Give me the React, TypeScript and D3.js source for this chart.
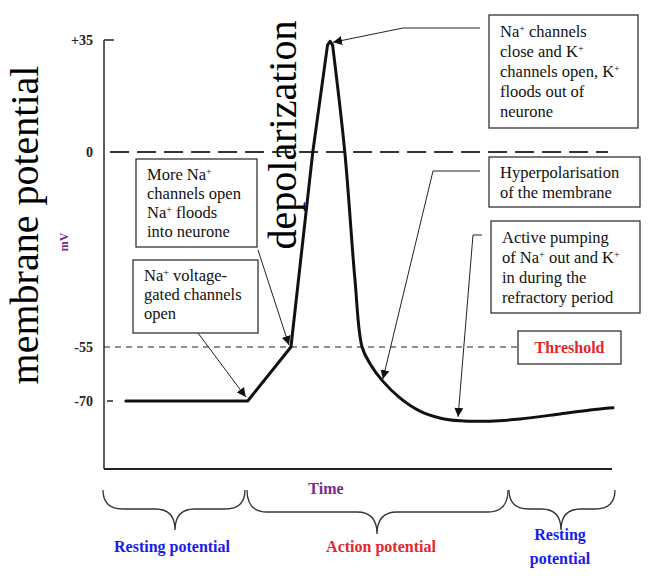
import React from "react";
import * as d3 from "d3";

// ---- data ----
const timePoints = [4.3, 28.3, 36.8, 41.1, 44.0, 44.5, 45.0, 47.4, 49.4, 50.8, 52.4, 54.7, 58.3, 62.2, 66.1, 70.1, 76.0, 81.9, 89.8, 95.7, 100.2];
const voltage = [-70, -70, -55, 0, 33.4, 34.6, 33.4, 0, -36, -55, -59.7, -64.2, -69.2, -72.8, -74.7, -75.5, -75.6, -75, -73.6, -72.5, -71.9];
const yTickValues = [35, 0, -55, -70];
const yTickLabels = ["+35", "0", "-55", "-70"];
const thresholdValue = -55;
const zeroValue = 0;

const W = 652;
const H = 580;
const SERIF = "'Liberation Serif', 'Times New Roman', serif";
const BLUE = "#1a1aee";
const RED = "#e3262b";
const PURPLE = "#7b2a8e";

const x = d3.scaleLinear().domain([0, 100]).range([104, 612]);
const y = d3.scaleLinear().domain([-80, -70, -55, 0, 35]).range([437, 401, 347, 152, 40]);

const pts: [number, number][] = timePoints.map((t, i) => [t, voltage[i]]);
const lineLinear = d3.line<[number, number]>().x(d => x(d[0])).y(d => y(d[1])).curve(d3.curveLinear);
const lineCurve = d3.line<[number, number]>().x(d => x(d[0])).y(d => y(d[1])).curve(d3.curveCatmullRom.alpha(0.5));

const Sup = ({ children }: { children: React.ReactNode }) => (
  <tspan fontSize="10" baselineShift="super">{children}</tspan>
);

type Line = React.ReactNode;
function Box({ x0, y0, w, h, lines, tx, ty, lh }: { x0: number; y0: number; w: number; h: number; lines: Line[]; tx: number; ty: number; lh: number }) {
  return (
    <g>
      <rect x={x0} y={y0} width={w} height={h} fill="white" stroke="#333" strokeWidth={1.3} />
      <text fontFamily={SERIF} fontSize={16.5} fill="#111">
        {lines.map((l, i) => (
          <tspan key={i} x={tx} y={ty + i * lh}>{l}</tspan>
        ))}
      </text>
    </g>
  );
}

function brace(x1: number, x2: number, tip: number, top: number, mid: number, bot: number) {
  const r = 10;
  return `M${x1},${top} Q${x1},${mid} ${x1 + r * 2},${mid} L${tip - r * 2},${mid} Q${tip},${mid} ${tip},${bot} Q${tip},${mid} ${tip + r * 2},${mid} L${x2 - r * 2},${mid} Q${x2},${mid} ${x2},${top}`;
}

export default function App() {
  const seg1 = pts.slice(0, 7);
  const seg2 = pts.slice(5);
  return (
    <svg width={W} height={H} style={{ position: "absolute", left: 0, top: 0, background: "white" }}>
      <defs>
        <marker id="ah" viewBox="0 0 10 10" refX="10" refY="5" markerWidth="9" markerHeight="9" orient="auto" markerUnits="userSpaceOnUse">
          <path d="M0,0 L10,5 L0,10 z" fill="#111" />
        </marker>
      </defs>

      {/* axes */}
      <line x1={x(0)} x2={x(0)} y1={y(35)} y2={469} stroke="#333" strokeWidth={1.6} />
      <line x1={x(0)} x2={x(100)} y1={469} y2={469} stroke="#222" strokeWidth={2} />
      <line x1={x(0)} x2={x(0) + 10} y1={y(35)} y2={y(35)} stroke="#333" strokeWidth={1.6} />
      <line x1={x(0) + 3} x2={x(0) + 9} y1={y(-70)} y2={y(-70)} stroke="#333" strokeWidth={1.6} />
      {yTickValues.map((v, i) => (
        <text key={v} x={93} y={y(v) + 5} textAnchor="end" fontFamily={SERIF} fontWeight="bold" fontSize={14} fill="#222">{yTickLabels[i]}</text>
      ))}

      {/* reference lines */}
      <line x1={x(1.2)} x2={x(99.2)} y1={y(zeroValue)} y2={y(zeroValue)} stroke="#333" strokeWidth={1.8} strokeDasharray="19 8" />
      <line x1={x(0)} x2={518} y1={y(thresholdValue)} y2={y(thresholdValue)} stroke="#222" strokeWidth={1.1} strokeDasharray="6 5" />

      {/* curve */}
      <path d={lineLinear(seg1) || ""} fill="none" stroke="#111" strokeWidth={3} strokeLinejoin="round" strokeLinecap="round" />
      <path d={lineCurve(seg2.slice(1)) || ""} fill="none" stroke="#111" strokeWidth={3} strokeLinejoin="round" strokeLinecap="round" />

      {/* big labels */}
      <text transform="translate(38,225) rotate(-90)" textAnchor="middle" fontFamily={SERIF} fontSize={40} fill="#000">membrane potential</text>
      <text transform="translate(296,135) rotate(-90)" textAnchor="middle" fontFamily={SERIF} fontSize={40} fill="#000">depolarization</text>
      <text transform="translate(68,242) rotate(-90)" textAnchor="middle" fontFamily={SERIF} fontWeight="bold" fontSize={12} fill={PURPLE}>mV</text>
      <text x={326} y={494} textAnchor="middle" fontFamily={SERIF} fontWeight="bold" fontSize={16} fill={PURPLE}>Time</text>

      {/* annotation arrows */}
      <g fill="none" stroke="#222" strokeWidth={1}>
        <path d={`M198,333 L${x(28.3) - 2},${y(-70) - 4}`} markerEnd="url(#ah)" />
        <path d={`M258,250 L${x(36.8) - 2},${y(-55) - 2}`} markerEnd="url(#ah)" />
        <path d={`M480,28 L403,28 L${x(44.5) + 3},${y(34.6) + 1}`} markerEnd="url(#ah)" />
        <path d={`M480,171 L433,171 L${x(54.7) + 1},${y(-64.2) - 1}`} markerEnd="url(#ah)" />
        <path d={`M482,235 L473,235 L${x(69.7)},${y(-75.5) - 4}`} markerEnd="url(#ah)" />
      </g>

      {/* annotation boxes */}
      <Box x0={136} y0={159} w={121} h={88} tx={147} ty={180} lh={19}
        lines={[<>More Na<Sup>+</Sup></>, "channels open", <>Na<Sup>+</Sup> floods</>, "into neurone"]} />
      <Box x0={133} y0={260} w={125} h={73} tx={144} ty={281} lh={19}
        lines={[<>Na<Sup>+</Sup> voltage-</>, "gated channels", "open"]} />
      <Box x0={489} y0={15} w={149} h={113} tx={500} ty={37} lh={20}
        lines={[<>Na<Sup>+</Sup> channels</>, <>close and K<Sup>+</Sup></>, <>channels open, K<Sup>+</Sup></>, "floods out of", "neurone"]} />
      <Box x0={489} y0={157} w={151} h={50} tx={500} ty={178} lh={20}
        lines={["Hyperpolarisation", "of the membrane"]} />
      <Box x0={491} y0={221} w={149} h={92} tx={502} ty={243} lh={20}
        lines={["Active pumping", <>of Na<Sup>+</Sup> out and K<Sup>+</Sup></>, "in during the", "refractory period"]} />

      {/* threshold */}
      <rect x={518} y={331} width={103} height={33} fill="white" stroke="#333" strokeWidth={1.3} />
      <text x={569.5} y={353} textAnchor="middle" fontFamily={SERIF} fontWeight="bold" fontSize={16} fill={RED}>Threshold</text>

      {/* braces */}
      <g fill="none" stroke="#333" strokeWidth={1.3}>
        <path d={brace(103, 245, 175, 490, 509, 530)} />
        <path d={brace(247, 508, 377, 490, 512, 534)} />
        <path d={brace(509, 615, 561, 490, 509, 530)} />
      </g>
      <text x={172} y={552} textAnchor="middle" fontFamily={SERIF} fontWeight="bold" fontSize={16} fill={BLUE}>Resting potential</text>
      <text x={381} y={552} textAnchor="middle" fontFamily={SERIF} fontWeight="bold" fontSize={16} fill={RED}>Action potential</text>
      <text x={560} y={540} textAnchor="middle" fontFamily={SERIF} fontWeight="bold" fontSize={16} fill={BLUE}>Resting</text>
      <text x={560} y={564} textAnchor="middle" fontFamily={SERIF} fontWeight="bold" fontSize={16} fill={BLUE}>potential</text>
    </svg>
  );
}
